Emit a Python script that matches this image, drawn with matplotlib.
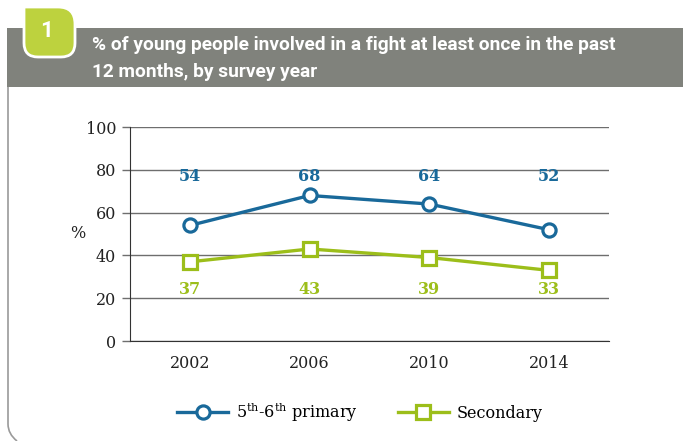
import numpy as np
import matplotlib
matplotlib.use('Agg')
import matplotlib.pyplot as plt
from matplotlib.path import Path
from matplotlib.patches import PathPatch, Rectangle
from matplotlib.lines import Line2D

years = ['2002', '2006', '2010', '2014']
primary = [54, 68, 64, 52]
secondary = [37, 43, 39, 33]
yticks = [0, 20, 40, 60, 80, 100]

blue = '#19699a'
green = '#9cbe1a'
grey_bar = '#80827c'
badge = '#bdd23e'

plt.rcParams['mathtext.fontset'] = 'dejavuserif'
serif = ['DejaVu Serif']
sans = ['Roboto', 'DejaVu Sans']

fig = plt.figure(figsize=(6.83, 4.41), dpi=100)

# background frame in pixel units
bg = fig.add_axes([0, 0, 1, 1])
bg.set_xlim(0, 683)
bg.set_ylim(441, 0)
bg.axis('off')
bg.add_patch(Rectangle((7, 28), 676, 59, color=grey_bar, lw=0))
border = Path([(8, 87), (8, 424), (8, 434), (17, 441)],
              [Path.MOVETO, Path.LINETO, Path.CURVE3, Path.CURVE3])
bg.add_patch(PathPatch(border, fill=False, ec='#9a9a9a', lw=1.2))
verts = [(24, 7), (58, 7), (75, 7), (75, 24), (75, 43), (75, 57), (61, 57),
         (38, 57), (24, 57), (24, 43), (24, 7)]
codes = [Path.MOVETO, Path.LINETO, Path.CURVE3, Path.CURVE3, Path.LINETO,
         Path.CURVE3, Path.CURVE3, Path.LINETO, Path.CURVE3, Path.CURVE3,
         Path.CLOSEPOLY]
bg.add_patch(PathPatch(Path(verts, codes), fc=badge, ec='white', lw=2))
bg.text(47, 31, '1', color='white', fontsize=16, fontweight='bold',
        family=sans, ha='center', va='center')
bg.text(92, 45, '% of young people involved in a fight at least once in the past',
        color='white', fontsize=13.8, fontweight='bold', family=sans,
        va='center')
bg.text(92, 72, '12 months, by survey year', color='white', fontsize=13.8,
        fontweight='bold', family=sans, va='center')

ax = fig.add_axes([130 / 683, 1 - 341 / 441, 479 / 683, 214 / 441])
x = np.arange(len(years))
ax.plot(x, primary, '-o', color=blue, lw=2.4, ms=9.5, mfc='white', mew=2.3,
        zorder=3)
ax.plot(x, secondary, '-s', color=green, lw=2.4, ms=9.5, mfc='white', mew=2.3,
        zorder=3)
for i in range(len(years)):
    ax.text(x[i], 77, str(primary[i]), color=blue, fontsize=11.5,
            fontweight='bold', family=serif, ha='center', va='center')
    ax.text(x[i], 24, str(secondary[i]), color=green, fontsize=11.5,
            fontweight='bold', family=serif, ha='center', va='center')

ax.set_xlim(-0.5, 3.5)
ax.set_ylim(0, 100)
ax.set_yticks(yticks)
ax.set_xticks(x)
ax.set_xticklabels(years)
ax.yaxis.grid(True, color='#6e6e6e', lw=1)
ax.set_axisbelow(True)
for s in ['top', 'right']:
    ax.spines[s].set_visible(False)
ax.spines['left'].set_color('#333333')
ax.spines['bottom'].set_color('#333333')
ax.tick_params(axis='y', length=6, color='#6e6e6e', width=1, pad=4)
ax.tick_params(axis='x', length=0, pad=10)
for lab in ax.get_xticklabels() + ax.get_yticklabels():
    lab.set_family(serif)
    lab.set_fontsize(11.5)
    lab.set_color('#222222')
ax.set_ylabel('%', rotation=0, fontsize=11.5, family=serif, labelpad=0,
              va='center', ha='right', color='#222222')

handles = [Line2D([], [], color=blue, lw=2.4, marker='o', ms=9.5, mfc='white', mew=2.3),
           Line2D([], [], color=green, lw=2.4, marker='s', ms=9.5, mfc='white', mew=2.3)]
fig.legend(handles, [r'5$^{\mathrm{th}}$-6$^{\mathrm{th}}$ primary', 'Secondary'],
           loc='center', bbox_to_anchor=(360 / 683, 1 - 412 / 441), ncol=2,
           frameon=False, prop={'family': serif, 'size': 11.5}, handlelength=3.2,
           handletextpad=0.5, columnspacing=2.5)

fig.savefig('out.png', dpi=100)
